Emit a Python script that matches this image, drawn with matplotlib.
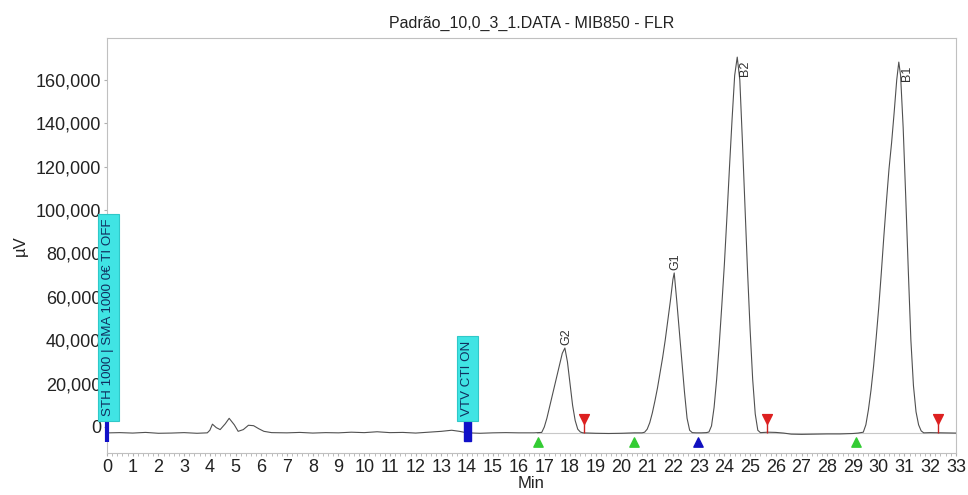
import matplotlib
matplotlib.use("Agg")
import matplotlib.pyplot as plt
from matplotlib.ticker import FuncFormatter, MultipleLocator

plt.rcParams['font.family'] = ['Liberation Sans', 'DejaVu Sans']

# trace (min, µV)
time = [0.1, 0.5, 1.0, 1.5, 2.0, 2.5, 3.0, 3.5, 3.9, 4.0, 4.1, 4.25, 4.4, 4.6, 4.75, 4.95,
        5.1, 5.3, 5.5, 5.7, 5.9, 6.1, 6.4, 7.0, 7.5, 8.0, 8.5, 9.0, 9.5, 10.0, 10.5, 11.0,
        11.5, 12.0, 12.5, 13.0, 13.4, 13.7, 14.0, 14.5, 15.0, 15.5, 16.0, 16.6,
        16.9, 17.0, 17.1, 17.2, 17.3, 17.4, 17.5, 17.6, 17.7, 17.8, 17.9, 18.0, 18.1, 18.2,
        18.3, 18.4, 18.5, 19.0, 19.5, 20.0, 20.5, 20.8,
        20.9, 21.0, 21.1, 21.2, 21.3, 21.4, 21.5, 21.6, 21.7, 21.8, 21.9, 22.0, 22.05,
        22.15, 22.25, 22.35, 22.45, 22.55, 22.65, 22.75, 22.9, 23.1, 23.3,
        23.4, 23.5, 23.6, 23.7, 23.8, 23.9, 24.0, 24.1, 24.2, 24.3, 24.4, 24.5, 24.6,
        24.7, 24.8, 24.9, 25.0, 25.1, 25.2, 25.3, 25.4, 25.7, 26.0, 26.3, 26.6, 27.0,
        27.5, 28.0, 28.5, 29.0, 29.2,
        29.4, 29.5, 29.6, 29.7, 29.8, 29.9, 30.0, 30.1, 30.2, 30.3, 30.4, 30.5, 30.6,
        30.7, 30.78, 30.85, 30.95, 31.05, 31.15, 31.25, 31.35, 31.45, 31.55, 31.65,
        31.75, 32.0, 32.5, 33.0]
signal = [-2700, -2600, -2800, -2500, -2900, -2800, -2600, -2900, -2700, -1500, 1300, -300,
          -1200, 1500, 4000, 1000, -2000, -1200, 800, 600, -800, -2000, -2600, -2700, -2500,
          -2800, -2600, -2700, -2400, -2600, -2200, -2600, -2500, -2800, -2400, -2000, -1500,
          -2000, -2700, -2900, -2700, -2600, -2700, -2700,
          -2500, 0, 4000, 9000, 14000, 19000, 24000, 29000, 34000, 36400, 30000, 20000, 10000,
          3000, -1000, -2300, -2700, -2900, -3000, -2900, -2700, -2700,
          -2400, -1000, 2000, 6500, 12000, 18000, 25000, 32000, 40000, 49000, 58000, 68000,
          71000, 58000, 44000, 30000, 16000, 4000, -1500, -2600, -2700, -2700, -2600,
          -2300, 500, 9000, 22000, 38000, 56000, 75000, 97000, 120000, 142000, 162000, 170500,
          160000, 132000, 102000, 72000, 45000, 22000, 6000, -1500, -2600, -2400, -2500,
          -2800, -3300, -3400, -3300, -3200, -3200, -3000, -2800,
          -2400, 1000, 8000, 17000, 28000, 41000, 55000, 71000, 88000, 104000, 119000, 131000,
          145000, 160000, 168200, 162000, 138000, 106000, 72000, 40000, 19000, 7000, 1000,
          -1800, -2700, -2600, -2700, -2800]

peak_names = ['G2', 'G1', 'B2', 'B1']
peak_times = [17.8, 22.05, 24.5, 30.78]
peak_heights = [36400, 71000, 170500, 168200]

start_times = [16.75, 20.5, 29.12]
start_blue = [22.96]
end_times = [18.56, 25.64, 32.3]
baseline_level = -2800

fig = plt.figure(figsize=(9.68, 4.95), dpi=100)
ax = fig.add_axes([0.1105, 0.0848, 0.877, 0.8384])

ax.plot(time, signal, color='#505050', lw=0.8, zorder=3)
ax.plot([16.7, 33], [baseline_level, baseline_level], color='#c8c8c8', lw=0.8, zorder=2)

# integration markers
ax.scatter(start_times, [-6800] * len(start_times), marker='^', s=45, color='#33cc33',
           zorder=4, clip_on=False)
ax.scatter(start_blue, [-6800], marker='^', s=45, color='#1010c0', zorder=4, clip_on=False)
ax.vlines(end_times, baseline_level, 2000, color='#cc2020', lw=1, zorder=4)
ax.scatter(end_times, [3500] * len(end_times), marker='v', s=50, color='#dd2020', zorder=4)

# event markers
ax.plot([0, 0], [3000, -7000], color='#1010c8', lw=3, zorder=5, clip_on=False,
        solid_capstyle='butt')
ax.add_patch(plt.Rectangle((13.88, -6500), 0.26, 9700, color='#1010c8', zorder=5))
ax.text(0.05, 5000, 'STH 1000 | SMA 1000 0€ TI OFF', rotation=90, fontsize=9.6,
        ha='center', va='bottom', color='#103060', zorder=6, clip_on=False,
        bbox=dict(boxstyle='square,pad=0.35', fc='#40e4e4', ec='#30c8c8', lw=0.8))
ax.text(14.01, 5000, 'VTV CTI ON', rotation=90, fontsize=9.6, ha='center', va='bottom',
        color='#103060', zorder=6,
        bbox=dict(boxstyle='square,pad=0.35', fc='#40e4e4', ec='#30c8c8', lw=0.8))

# peak labels
for name, t, h in zip(peak_names, peak_times, peak_heights):
    if h > 150000:
        ax.text(t + 0.3, h - 1500, name, rotation=90, fontsize=9, ha='center', va='top',
                color='#303030')
    else:
        ax.text(t + 0.05, h + 1500, name, rotation=90, fontsize=9, ha='center', va='bottom',
                color='#303030')

ax.set_xlim(0, 33)
ax.set_ylim(-12000, 179300)
ax.xaxis.set_major_locator(MultipleLocator(1))
ax.xaxis.set_minor_locator(MultipleLocator(0.2))
ax.yaxis.set_major_locator(MultipleLocator(20000))
ax.yaxis.set_major_formatter(FuncFormatter(lambda v, p: f'{int(v):,}' if v >= 0 else ''))
ax.tick_params(labelsize=13, length=2, color='#b0b0b0', pad=2, labelcolor='#222222')
ax.tick_params(axis='x', which='minor', length=2, color='#b0b0b0')
for s in ax.spines.values():
    s.set_color('#c0c0c0')
    s.set_linewidth(0.8)

ax.set_title('Padrão_10,0_3_1.DATA - MIB850 - FLR', fontsize=11.5, color='#222222', pad=7)
ax.set_xlabel('Min', fontsize=12, color='#222222', labelpad=0)
ax.set_ylabel('µV', fontsize=12, color='#222222', labelpad=6)

fig.savefig('out.png', dpi=100)
